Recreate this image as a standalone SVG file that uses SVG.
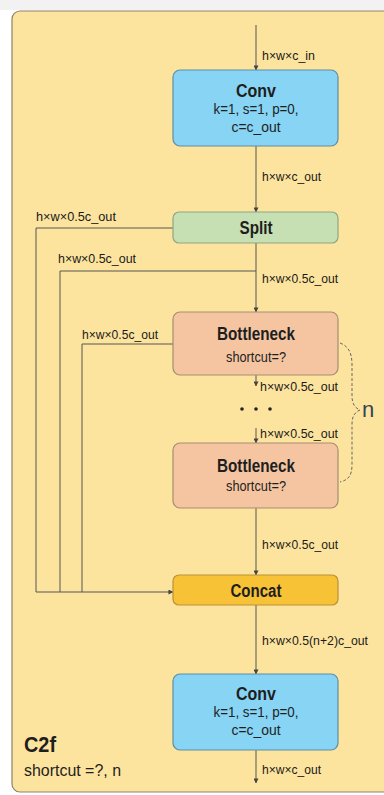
<svg xmlns="http://www.w3.org/2000/svg" width="384" height="795" viewBox="0 0 384 795">
<defs>
<marker id="ah" viewBox="0 0 6 6" refX="5.5" refY="3" markerWidth="5" markerHeight="5" orient="auto" markerUnits="userSpaceOnUse">
<path d="M0,0 L6,3 L0,6 z" fill="#444"/>
</marker>
<style>
.box{stroke-width:1.2}
.conv{fill:#87d4f4;stroke:#5f8ea3}
.split{fill:#c6e0b4;stroke:#8fa684}
.bn{fill:#f5c5a2;stroke:#a68d72}
.cc{fill:#f8c236;stroke:#b8913a}
.t{font-family:"Liberation Sans",Arial,sans-serif;fill:#1e1e1e;text-anchor:middle}
.title{font-size:18px;font-weight:bold}
.sub{font-size:14px}
.lbl{font-family:"Liberation Sans",Arial,sans-serif;font-size:13px;fill:#1a1a1a}
.ln{fill:none;stroke:#555;stroke-width:1}
</style>
</defs>
<rect x="0" y="0" width="384" height="795" fill="#ffffff"/>
<rect x="0" y="0" width="384" height="10" fill="#f2f2f2"/>
<rect x="12" y="11" width="390" height="781" rx="8" fill="#fde49e" stroke="#8c836c" stroke-width="1.2"/>

<g id="connectors">
<path class="ln" d="M256,25 V70" marker-end="url(#ah)"/>
<path class="ln" d="M256,146 V212" marker-end="url(#ah)"/>
<path class="ln" d="M256,243 V312" marker-end="url(#ah)"/>
<path class="ln" d="M256,375 V386" marker-end="url(#ah)"/>
<path class="ln" d="M256,428 V443" marker-end="url(#ah)"/>
<path class="ln" d="M256,508 V575" marker-end="url(#ah)"/>
<path class="ln" d="M256,605 V674" marker-end="url(#ah)"/>
<path class="ln" d="M256,750 V783" marker-end="url(#ah)"/>
<path class="ln" d="M173,228 H36 V592 H173" marker-end="url(#ah)"/>
<path class="ln" d="M256,271 H60 V592"/>
<path class="ln" d="M173,344 H82 V592"/>
<path d="M340,343 C348,346 352,352 352,365 L352,396 C352,404 355,408 360,410 C355,412 352,416 352,424 L352,465 C352,476 348,480 340,482" fill="none" stroke="#666" stroke-width="1" stroke-dasharray="3,2"/>
</g>

<g id="conv1">
<rect class="box conv" x="173" y="70" width="165" height="76" rx="7"/>
<text class="t title" x="256" y="97" textLength="40" lengthAdjust="spacingAndGlyphs">Conv</text>
<text class="t sub" x="256" y="114" textLength="85" lengthAdjust="spacingAndGlyphs">k=1, s=1, p=0,</text>
<text class="t sub" x="256" y="132" textLength="49" lengthAdjust="spacingAndGlyphs">c=c_out</text>
</g>
<g id="split">
<rect class="box split" x="173" y="212" width="165" height="31" rx="6"/>
<text class="t title" x="256" y="234" textLength="33" lengthAdjust="spacingAndGlyphs">Split</text>
</g>
<g id="bottleneck1">
<rect class="box bn" x="173" y="312" width="165" height="63" rx="7"/>
<text class="t title" x="256" y="340" textLength="78" lengthAdjust="spacingAndGlyphs">Bottleneck</text>
<text class="t sub" x="256" y="362" textLength="60" lengthAdjust="spacingAndGlyphs">shortcut=?</text>
</g>
<g id="dots">
<circle cx="242" cy="409" r="1.8" fill="#222"/>
<circle cx="256" cy="409" r="1.8" fill="#222"/>
<circle cx="270" cy="409" r="1.8" fill="#222"/>
</g>
<g id="bottleneck2">
<rect class="box bn" x="173" y="443" width="165" height="65" rx="7"/>
<text class="t title" x="256" y="472" textLength="78" lengthAdjust="spacingAndGlyphs">Bottleneck</text>
<text class="t sub" x="256" y="491" textLength="60" lengthAdjust="spacingAndGlyphs">shortcut=?</text>
</g>
<g id="concat">
<rect class="box cc" x="173" y="575" width="165" height="30" rx="6"/>
<text class="t title" x="256" y="597" textLength="51" lengthAdjust="spacingAndGlyphs">Concat</text>
</g>
<g id="conv2">
<rect class="box conv" x="173" y="674" width="165" height="76" rx="7"/>
<text class="t title" x="256" y="700" textLength="40" lengthAdjust="spacingAndGlyphs">Conv</text>
<text class="t sub" x="256" y="717" textLength="85" lengthAdjust="spacingAndGlyphs">k=1, s=1, p=0,</text>
<text class="t sub" x="256" y="735" textLength="49" lengthAdjust="spacingAndGlyphs">c=c_out</text>
</g>

<g id="labels">
<text class="lbl" x="262" y="60" textLength="53" lengthAdjust="spacingAndGlyphs">h×w×c_in</text>
<text class="lbl" x="262" y="181" textLength="59" lengthAdjust="spacingAndGlyphs">h×w×c_out</text>
<text class="lbl" x="36" y="221" textLength="80" lengthAdjust="spacingAndGlyphs">h×w×0.5c_out</text>
<text class="lbl" x="58" y="263" textLength="78" lengthAdjust="spacingAndGlyphs">h×w×0.5c_out</text>
<text class="lbl" x="262" y="283" textLength="76" lengthAdjust="spacingAndGlyphs">h×w×0.5c_out</text>
<text class="lbl" x="82" y="339" textLength="76" lengthAdjust="spacingAndGlyphs">h×w×0.5c_out</text>
<text class="lbl" x="260" y="391" textLength="78" lengthAdjust="spacingAndGlyphs">h×w×0.5c_out</text>
<text class="lbl" x="260" y="438" textLength="78" lengthAdjust="spacingAndGlyphs">h×w×0.5c_out</text>
<text class="lbl" x="262" y="549" textLength="76" lengthAdjust="spacingAndGlyphs">h×w×0.5c_out</text>
<text class="lbl" x="262" y="645" textLength="106" lengthAdjust="spacingAndGlyphs">h×w×0.5(n+2)c_out</text>
<text class="lbl" x="262" y="774" textLength="59" lengthAdjust="spacingAndGlyphs">h×w×c_out</text>
<text x="362" y="417" font-family="Liberation Sans,Arial,sans-serif" font-size="22" fill="#2f4858">n</text>
</g>
<g id="legend">
<text x="24" y="752" font-family="Liberation Sans,Arial,sans-serif" font-size="22" font-weight="bold" fill="#1e1e1e" textLength="32" lengthAdjust="spacingAndGlyphs">C2f</text>
<text x="24" y="776" font-family="Liberation Sans,Arial,sans-serif" font-size="16" fill="#1e1e1e" textLength="97" lengthAdjust="spacingAndGlyphs">shortcut =?, n</text>
</g>
</svg>
